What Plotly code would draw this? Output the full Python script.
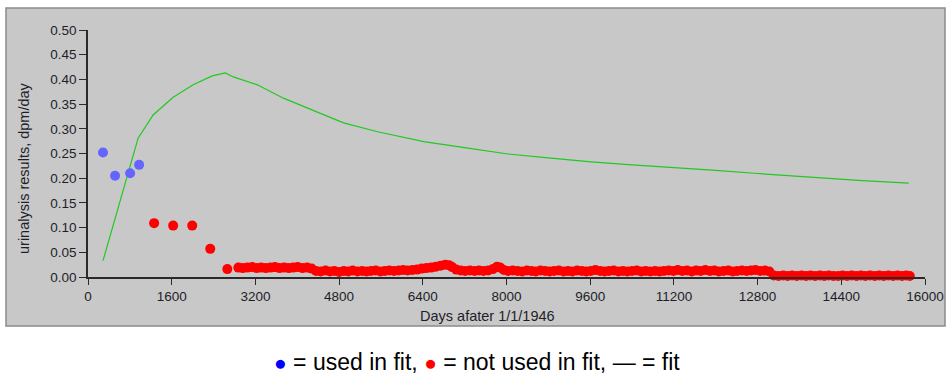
import plotly.graph_objects as go

# Urinalysis samples used in the fit (days after 1/1/1946, dpm/day)
used_days = [287, 517, 805, 977]
used_vals = [0.252, 0.205, 0.210, 0.227]

# Urinalysis samples not used in the fit
unused_days = [
    1264, 1628, 1992, 2337, 2663,
    2874, 2960, 3050, 3140, 3225, 3310, 3400, 3490, 3575, 3660, 3750, 3840,
    3925, 4010, 4100, 4190, 4275,
    4360, 4450, 4540, 4625, 4710, 4800, 4890, 4975, 5060, 5150, 5240, 5325,
    5410, 5500, 5590, 5675, 5760, 5850, 5940, 6025, 6110, 6200, 6290,
    6380, 6470, 6560, 6650, 6740, 6830, 6900, 6960, 7040, 7125,
    7210, 7300, 7390, 7475, 7560, 7650, 7740, 7820, 7880, 7950, 8030, 8120,
    8210, 8300, 8390, 8475, 8560, 8650, 8740, 8825, 8910, 9000, 9090, 9175,
    9260, 9350, 9440, 9525, 9610, 9700, 9790, 9875, 9960, 10050, 10140, 10225,
    10310, 10400, 10490, 10575, 10660, 10750, 10840, 10925, 11010, 11100,
    11190, 11275, 11360, 11450, 11540, 11625, 11710, 11800, 11890, 11975,
    12060, 12150, 12240, 12325, 12410, 12500, 12590, 12675, 12760, 12850,
    12940, 13025,
    13110, 13200, 13290, 13375, 13460, 13550, 13640, 13725, 13810, 13900,
    13990, 14075, 14160, 14250, 14340, 14425, 14510, 14600, 14690, 14775,
    14860, 14950, 15040, 15125, 15210, 15300, 15390, 15475, 15560, 15640, 15710,
]
unused_vals = [
    0.109, 0.104, 0.104, 0.057, 0.016,
    0.019, 0.018, 0.019, 0.020, 0.018, 0.019, 0.018, 0.019, 0.020, 0.018, 0.019, 0.018,
    0.019, 0.020, 0.018, 0.019, 0.017,
    0.012, 0.011, 0.013, 0.011, 0.012, 0.010, 0.012, 0.011, 0.013, 0.011, 0.012, 0.011,
    0.012, 0.013, 0.011, 0.012, 0.013, 0.012, 0.013, 0.014, 0.013, 0.014, 0.015,
    0.017, 0.018, 0.019, 0.021, 0.023, 0.025, 0.024, 0.020, 0.015, 0.013,
    0.012, 0.013, 0.012, 0.013, 0.012, 0.013, 0.016, 0.021, 0.019, 0.014, 0.012, 0.013,
    0.012, 0.011, 0.013, 0.012, 0.011, 0.013, 0.012, 0.011, 0.012, 0.013, 0.011, 0.012,
    0.011, 0.013, 0.012, 0.011, 0.012, 0.014, 0.012, 0.011, 0.012, 0.013, 0.011, 0.012,
    0.011, 0.012, 0.013, 0.011, 0.012, 0.011, 0.012, 0.011, 0.012, 0.013,
    0.012, 0.014, 0.012, 0.013, 0.011, 0.013, 0.012, 0.014, 0.012, 0.013,
    0.011, 0.012, 0.013, 0.011, 0.012, 0.013, 0.012, 0.013, 0.014, 0.012,
    0.013, 0.011,
    0.003, 0.002, 0.003, 0.002, 0.003, 0.002, 0.003, 0.002, 0.003, 0.002,
    0.003, 0.002, 0.003, 0.002, 0.002, 0.003, 0.002, 0.003, 0.002, 0.003,
    0.002, 0.003, 0.002, 0.003, 0.002, 0.003, 0.002, 0.003, 0.002, 0.003, 0.002,
]

# Fitted excretion curve
fit_days = [287, 958, 1245, 1628, 2011, 2375, 2625, 2778, 3237, 3736, 4061, 4444,
            4885, 5537, 6418, 7200, 8025, 8800, 9617, 10400, 11200, 12000, 12739,
            13400, 14023, 14800, 15690]
fit_vals = [0.033, 0.281, 0.328, 0.364, 0.389, 0.407, 0.413, 0.405, 0.389, 0.362,
            0.348, 0.332, 0.312, 0.294, 0.274, 0.262, 0.249, 0.241, 0.233, 0.227,
            0.222, 0.216, 0.210, 0.205, 0.200, 0.195, 0.190]

x_ticks = [0, 1600, 3200, 4800, 6400, 8000, 9600, 11200, 12800, 14400, 16000]
y_ticks = [0.00, 0.05, 0.10, 0.15, 0.20, 0.25, 0.30, 0.35, 0.40, 0.45, 0.50]

W, H = 947, 374
L, R, T, B = 88, 22, 30, 97
pw, ph = W - L - R, H - T - B


def px_x(p):
    return (p - L) / pw


def px_y(p):
    return (H - B - p) / ph


fig = go.Figure()
fig.add_trace(go.Scatter(x=fit_days, y=fit_vals, mode="lines",
                         line=dict(color="#22c822", width=1.2),
                         cliponaxis=False, hoverinfo="skip"))
fig.add_trace(go.Scatter(x=unused_days, y=unused_vals, mode="markers",
                         marker=dict(color="#ff0000", size=10, line=dict(width=0)),
                         cliponaxis=False))
fig.add_trace(go.Scatter(x=used_days, y=used_vals, mode="markers",
                         marker=dict(color="#6464ff", size=10, line=dict(width=0)),
                         cliponaxis=False))

axis_font = dict(family="Liberation Sans, Arial, sans-serif", size=13.5, color="#1e1e28")
title_font = dict(family="Liberation Sans, Arial, sans-serif", size=14.5, color="#1e1e28")

fig.update_layout(
    width=W, height=H,
    margin=dict(l=L, r=R, t=T, b=B, pad=0, autoexpand=False),
    paper_bgcolor="white",
    plot_bgcolor="#c8c8c8",
    showlegend=False,
    xaxis=dict(range=[0, 16000], tickvals=x_ticks, ticktext=[str(v) for v in x_ticks],
               showgrid=False, zeroline=False, showline=True, linecolor="#2a2a2a",
               linewidth=1.5, ticks="outside", ticklen=6, tickcolor="#2a2a2a",
               tickfont=axis_font, fixedrange=True, automargin=False),
    yaxis=dict(range=[0, 0.5], tickvals=y_ticks, ticktext=[f"{v:.2f}" for v in y_ticks],
               showgrid=False, zeroline=False, showline=True, linecolor="#2a2a2a",
               linewidth=1.5, ticks="outside", ticklen=7, tickcolor="#2a2a2a",
               tickfont=axis_font, fixedrange=True, automargin=False),
    shapes=[dict(type="rect", xref="paper", yref="paper", layer="below",
                 x0=px_x(6), x1=px_x(945), y0=px_y(326), y1=px_y(8),
                 fillcolor="#c8c8c8", line=dict(color="#8a8a8a", width=1.5))],
    annotations=[
        dict(text="urinalysis results, dpm/day", textangle=-90, showarrow=False,
             xref="paper", yref="paper", x=px_x(24), y=px_y(168),
             xanchor="center", yanchor="middle", font=title_font),
        dict(text="Days afater 1/1/1946", showarrow=False,
             xref="paper", yref="paper", x=px_x(487), y=px_y(316),
             xanchor="center", yanchor="middle", font=title_font),
        dict(text="<span style='color:#0000ff;font-size:21px'>●</span> = used in fit, "
                  "<span style='color:#ff0000;font-size:21px'>●</span> = not used in fit, — = fit",
             showarrow=False, xref="paper", yref="paper",
             x=px_x(477), y=px_y(362), xanchor="center", yanchor="middle",
             font=dict(family="Liberation Sans, Arial, sans-serif", size=23, color="#000000")),
    ],
)

fig.write_html("out.html")
